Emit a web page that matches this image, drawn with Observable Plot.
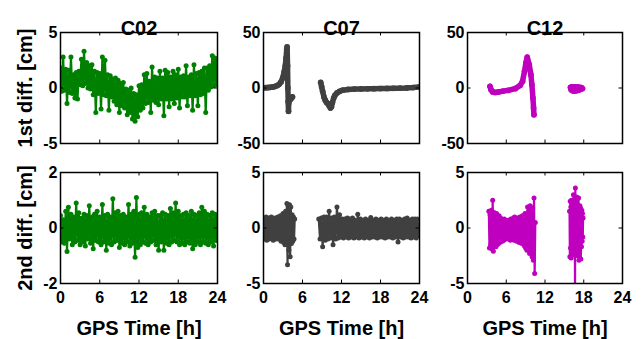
<!DOCTYPE html>
<html><head><meta charset="utf-8">
<script src="https://cdn.jsdelivr.net/npm/d3@7"></script>
<script src="https://cdn.jsdelivr.net/npm/@observablehq/plot@0.6"></script>
<style>
body{margin:0;background:#fff;}
#wrap{position:relative;width:642px;height:339px;overflow:hidden;background:#fff;}
#wrap svg{position:absolute;}
</style></head><body><div id="wrap"></div>
<script>
// ---------- labels / ticks ----------
const titles = ["C02", "C07", "C12"];
const rowLabels = ["1st diff. [cm]", "2nd diff. [cm]"];
const xLabel = "GPS Time [h]";
const xTicks = [0, 6, 12, 18, 24];
const yTicksTop = [[-5, 0, 5], [-50, 0, 50], [-50, 0, 50]];
const yTicksBottom = [[-2, 0, 2], [-5, 0, 5], [-5, 0, 5]];
const colors = ["#008000", "#404040", "#bf00bf"];

// ---------- C02 (sampled every 0.2 h from 0 h) ----------
const c02Start = 0, c02Step = 0.2;
const c02First = [
  1.8,-0.3,2.8,-0.2,1.7, -1.4,1.6,-0.4,2.8,-0.5, 1.2,-0.9,1.4,-1.0,1.5, 0.3,2.6,0.2,3.3,0.4,
  2.3,0.0,2.0,-0.1,2.1, -0.6,1.5,-2.2,1.4,-0.5, 1.3,-1.9,2.8,-0.6,2.5, -0.7,1.2,-2.0,1.1,-0.8,
  0.8,-1.2,0.9,-1.5,0.7, -2.2,0.4,-1.6,0.5,-1.8, -0.1,-2.4,-0.2,-2.2,0.0, -2.8,-0.5,-3.0,-0.6,-2.6,
  0.2,-2.0,0.3,-1.8,1.2, -1.4,1.3,-1.3,0.6,-2.2, 1.9,-1.1,1.0,-1.3,0.9, -1.5,1.5,-1.0,0.9,-2.5,
  1.6,-1.0,1.4,-1.7,1.0, -1.0,1.5,-1.4,1.2,-0.9, 1.7,-1.8,1.0,-0.8,1.1, -0.8,2.0,-1.6,1.0,-0.7,
  1.2,-2.0,2.1,-0.7,1.3, -1.6,1.4,-0.6,1.5,-0.5, 1.8,-2.2,1.8,-0.2,2.0, 0.1,2.9,0.2,2.7,0.3, 2.5];
const c02Second = [
  0.45,-0.5,0.3,-0.55,0.6,-0.85,0.75,-0.4,0.5,-0.6, 0.4,-0.5,0.9,-0.45,0.55,-0.6,0.35,-0.5,0.5,-0.65,
  0.45,-0.4,0.8,-0.55,0.4,-0.75,0.5,-0.45,0.6,-0.5, 0.4,-0.6,0.85,-0.5,0.45,-0.8,0.5,-0.55,0.4,-0.6,
  1.05,-0.5,0.55,-0.45,0.6,-0.7,0.45,-0.55,0.5,-0.6, 0.4,-0.5,0.85,-0.65,0.5,-0.55,0.6,-1.05,1.1,-0.7,
  0.5,-0.6,0.55,-0.5,0.75,-0.55,0.5,-0.6,0.4,-0.5, 0.55,-0.45,0.6,-0.6,0.45,-0.8,0.45,-0.5,0.55,-0.8,
  0.5,-0.55,0.45,-0.6,0.7,-0.5,0.55,-0.45,0.9,-0.5, 0.6,-0.6,0.45,-0.55,0.5,-0.6,0.55,-0.5,0.45,-0.55,
  0.6,-0.75,0.5,-0.6,0.45,-0.5,0.55,-0.6,0.75,-0.5, 0.6,-0.55,0.5,-0.6,0.45,-0.5,0.55,-0.65,0.5,-0.45, 0.4];

// ---------- C07 ----------
const c07FirstAT = [0,0.3,0.6,0.9,1.2,1.5,1.8,2.1,2.4,2.7,2.95,3.2,3.35,3.47,3.58,3.63,3.7,3.75,3.8,3.85,3.87,3.9,4.2,4.45];
const c07FirstAV = [0.3,0.3,0.4,0.5,0.7,1.0,1.5,2.2,3.3,5.5,9,15,20,27,35,37,20,0,-12,-21,-14,-12,-10,-8];
const c07FirstBT = [8.8,8.95,9.1,9.3,9.5,9.7,9.9,10.1,10.3,10.45,10.6,10.8,11.0,11.3,11.7,12.2,13,14,15,16,17,18,19,20,21,22,23,24];
const c07FirstBV = [5,1,-3,-8,-11,-13,-14,-16,-18,-17,-13,-9,-6.5,-4.5,-3,-2,-1.3,-1.0,-0.8,-0.7,-0.6,-0.5,-0.4,-0.3,-0.2,0,0.4,1.0];
const c07SecondAStart = 0, c07SecondAStep = 0.1;
const c07SecondA = [
  0.9,-1.0,0.8,-0.9,1.0,-1.1,0.7,-0.8,0.9,-1.0, 0.8,-0.9,1.0,-0.8,0.9,-1.1,0.8,-0.9,0.9,-1.0,
  0.8,-0.9,1.0,-1.0,0.9,-0.9,1.1,-1.2,1.0,-1.0, 1.3,-1.3,1.2,-1.5,1.5,-1.2,2.2,-3.3,2.0,-2.0,
  2.1,-2.6,1.9,-1.4,1.2,-1.2,1.0,-1.0,0.8];
const c07SecondBStart = 8.5, c07SecondBStep = 0.2;
const c07SecondB = [
  0.8,-1.0,0.9,-1.7,1.0,-1.1,1.0,-1.0,1.5,-0.9, 0.9,-1.5,1.0,-1.0,1.9,-0.9,1.2,-0.8,0.8,-0.9,
  0.8,-0.8,0.9,-0.9,0.8,-0.8,0.9,-0.9,0.7,-0.8, 1.25,-0.9,0.8,-0.8,0.7,-0.9,0.8,-0.8,0.7,-0.9,
  0.95,-0.8,0.7,-0.8,0.8,-0.9,0.7,-0.8,0.8,-0.8, 0.7,-0.9,0.8,-0.8,0.7,-0.8,0.8,-0.9,0.7,-0.8,
  0.8,-1.25,0.8,-0.8,0.7,-0.9,0.8,-0.8,0.9,-0.8, 0.7,-0.9,0.8,-0.8,0.8,-0.9,0.8,-0.7];

// ---------- C12 ----------
const c12FirstAT = [3.48,3.64,3.9,4.26,4.78,5.5,6.34,7.38,8.16,8.52,8.83,9.04,9.25,9.56,9.82,9.97,10.13,10.23,10.29];
const c12FirstAV = [1.5,-1.5,-3.5,-4.0,-3.6,-2.8,-2.1,-0.6,2.4,6,15,22.6,27.7,21,12,3,-9,-18,-24];
const c12FirstBT = [15.95,16.05,16.15,16.3,16.45,16.6,16.75,16.9,17.05,17.2,17.35,17.5,17.65,17.8];
const c12FirstBV = [0.5,-1.5,0.9,-2.5,1.0,-2.8,0.8,-2.4,0.9,-2.0,0.6,-1.2,0.4,-0.5];
const c12SecondAStart = 3.3, c12SecondAStep = 0.1;
const c12SecondA = [
  1.5,-1.8,1.2,-1.5,1.6,-1.9,2.5,-2.1,1.4,-1.6, 1.2,-1.7,1.3,-1.5,1.0,-1.4,1.1,-1.3,0.9,-1.2,
  0.8,-1.2,0.7,-1.1,0.8,-1.0,0.7,-1.0,0.6,-0.9, 0.7,-1.0,0.6,-1.1,0.8,-0.9,0.7,-1.0,0.9,-1.1,
  1.0,-1.0,0.8,-1.2,0.9,-1.1,0.8,-1.3,1.0,-1.2, 0.9,-1.4,1.1,-1.3,1.0,-1.6,1.3,-1.8,1.2,-2.0,
  1.9,-1.7,1.5,-2.3,2.0,-2.0,1.6,-2.6,1.8,-2.9, 2.7,-4.1,0.5];
const c12SecondBStart = 15.8, c12SecondBStep = 0.05;
const c12SecondB = [
  1.5,-2.6,2.4,-1.8,1.9,-2.7,2.5,-1.5,1.8,-2.2, 2.2,-1.9,3.0,-2.4,2.0,-2.0,1.5,-5.6,3.6,-1.6,
  2.4,-2.2,2.8,-1.8,2.1,-2.5,1.7,-2.0,2.7,-2.9, 1.6,-2.2,2.0,-1.5,1.8,-2.8,1.4,-1.7,1.6,-1.2,
  1.3,-0.8,0.9];

// ---------- helpers ----------
const fromPairs = (T, V, seg) => T.map((t, i) => ({t, v: V[i], seg}));
const fromSteps = (start, step, V, seg) => V.map((v, i) => ({t: start + i * step, v, seg}));

const colLeft = [60, 263, 467], colW = [157, 156, 155];
const rowTop = [32, 172], rowH = [111, 111];
const ML = 50, MR = 14, MT = 30, MB = 62;
const FONT = "'Liberation Sans', Arial, sans-serif";
const fmt = d => String(d);

const panels = [
  {row:0, col:0, data:[...fromSteps(c02Start, c02Step, c02First, 0)], thick:false},
  {row:0, col:1, data:[...fromPairs(c07FirstAT, c07FirstAV, 0), ...fromPairs(c07FirstBT, c07FirstBV, 1)], thick:true},
  {row:0, col:2, data:[...fromPairs(c12FirstAT, c12FirstAV, 0), ...fromPairs(c12FirstBT, c12FirstBV, 1)], thick:true},
  {row:1, col:0, data:[...fromSteps(c02Start, c02Step, c02Second, 0)], thick:false},
  {row:1, col:1, data:[...fromSteps(c07SecondAStart, c07SecondAStep, c07SecondA, 0), ...fromSteps(c07SecondBStart, c07SecondBStep, c07SecondB, 1)], thick:false},
  {row:1, col:2, data:[...fromSteps(c12SecondAStart, c12SecondAStep, c12SecondA, 0), ...fromSteps(c12SecondBStart, c12SecondBStep, c12SecondB, 1)], thick:false}
];

const wrap = document.getElementById("wrap");
for (const p of panels) {
  const w = colW[p.col], h = rowH[p.row];
  const yt = p.row === 0 ? yTicksTop[p.col] : yTicksBottom[p.col];
  const color = colors[p.col];
  const marks = [
    Plot.line(p.data, {x:"t", y:"v", z:"seg", stroke:color, strokeWidth: p.thick ? 5.5 : 2.2,
      strokeLinecap:"round", strokeLinejoin:"round", clip:true}),
    Plot.dot(p.data, {x:"t", y:"v", r: p.thick ? 2.9 : 2.5, fill:color, stroke:"none", clip:true}),
    Plot.frame({stroke:"black", strokeWidth:1.5}),
    Plot.tickX(xTicks, {x:d=>d, stroke:"black", strokeWidth:1, insetTop:h-3.5}),
    Plot.tickX(xTicks, {x:d=>d, stroke:"black", strokeWidth:1, insetBottom:h-3.5}),
    Plot.tickY(yt, {y:d=>d, stroke:"black", strokeWidth:1, insetRight:w-3.5}),
    Plot.tickY(yt, {y:d=>d, stroke:"black", strokeWidth:1, insetLeft:w-3.5}),
    Plot.axisY(yt, {tickSize:0, tickPadding:3, tickFormat:fmt, label:null, fontSize:16, fontWeight:"bold", fill:"black"})
  ];
  if (p.row === 0) {
    marks.push(Plot.text([titles[p.col]], {text:d=>d, frameAnchor:"top", lineAnchor:"bottom", dy:2,
      fontSize:20, fontWeight:"bold", fill:"black"}));
  } else {
    marks.push(Plot.axisX(xTicks, {tickSize:0, tickPadding:8, tickFormat:fmt, label:null, fontSize:16, fontWeight:"bold", fill:"black"}));
    marks.push(Plot.text([xLabel], {text:d=>d, frameAnchor:"bottom", lineAnchor:"middle", dy:45,
      fontSize:20, fontWeight:"bold", fill:"black"}));
  }
  if (p.col === 0) {
    marks.push(Plot.text([rowLabels[p.row]], {text:d=>d, frameAnchor:"left", textAnchor:"middle", lineAnchor:"middle",
      rotate:-90, dx:-35, fontSize:20, fontWeight:"bold", fill:"black"}));
  }
  const svg = Plot.plot({
    width: w + ML + MR, height: h + MT + MB,
    marginLeft: ML, marginRight: MR, marginTop: MT, marginBottom: MB,
    x: {domain:[0, 24], ticks: xTicks, axis: null},
    y: {domain:[yt[0], yt[yt.length-1]], ticks: yt, axis: null},
    style: {background:"transparent", overflow:"visible", fontFamily:FONT, fontSize:"16px", fontWeight:"bold", color:"black"},
    marks
  });
  svg.style.left = (colLeft[p.col] - ML) + "px";
  svg.style.top = (rowTop[p.row] - MT) + "px";
  wrap.appendChild(svg);
}
</script></body></html>
